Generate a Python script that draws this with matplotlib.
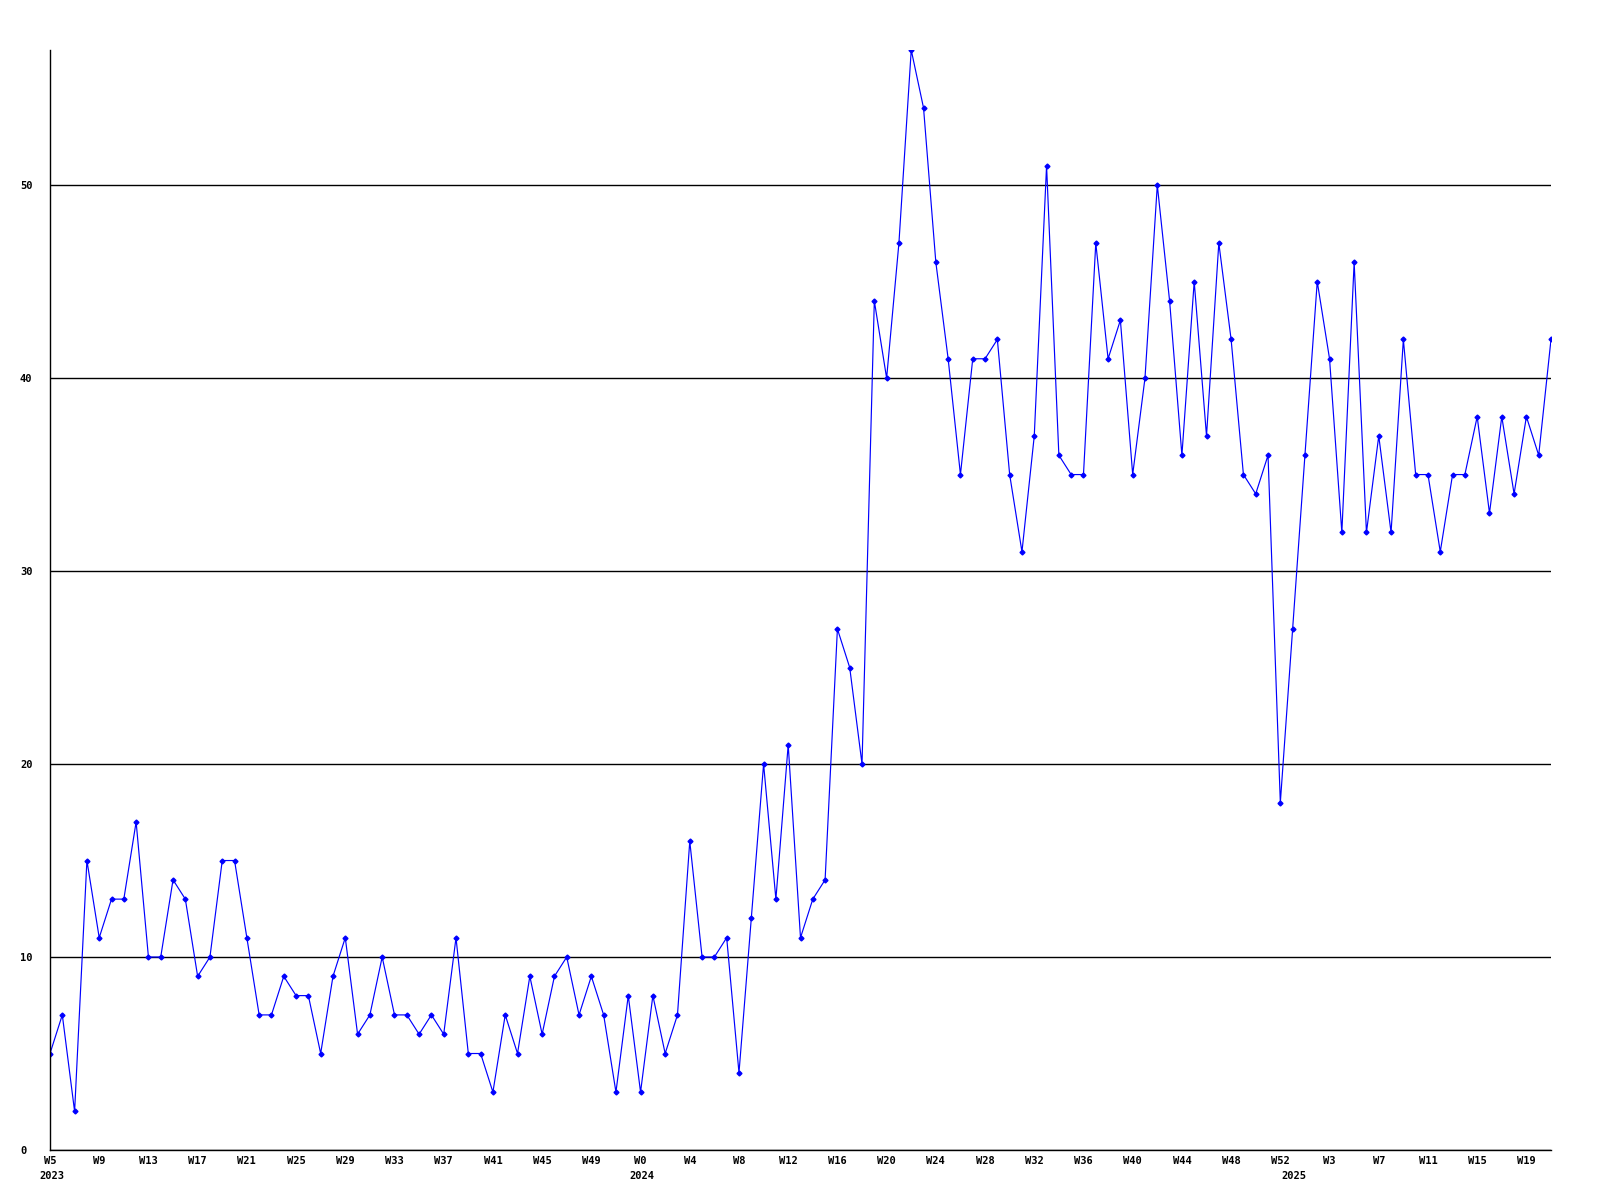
import matplotlib
matplotlib.use("Agg")
import matplotlib.pyplot as plt

# weekly counts, 2023 W5 through 2025 W21
counts = [5, 7, 2, 15, 11, 13, 13, 17, 10, 10, 14, 13, 9, 10, 15, 15, 11, 7, 7, 9,
          8, 8, 5, 9, 11, 6, 7, 10, 7, 7, 6, 7, 6, 11, 5, 5, 3, 7, 5, 9,
          6, 9, 10, 7, 9, 7, 3, 8, 3, 8, 5, 7, 16, 10, 10, 11, 4, 12, 20, 13,
          21, 11, 13, 14, 27, 25, 20, 44, 40, 47, 57, 54, 46, 41, 35, 41, 41, 42, 35, 31,
          37, 51, 36, 35, 35, 47, 41, 43, 35, 40, 50, 44, 36, 45, 37, 47, 42, 35, 34, 36,
          18, 27, 36, 45, 41, 32, 46, 32, 37, 32, 42, 35, 35, 31, 35, 35, 38, 33, 38, 34,
          38, 36, 42]

# every 4th week is labelled
week_labels = ["W5", "W9", "W13", "W17", "W21", "W25", "W29", "W33", "W37", "W41",
               "W45", "W49", "W0", "W4", "W8", "W12", "W16", "W20", "W24", "W28",
               "W32", "W36", "W40", "W44", "W48", "W52", "W3", "W7", "W11", "W15", "W19"]

# year labels and the index of the week where each year starts
years = ["2023", "2024", "2025"]
year_starts = [0, 48, 101]

yticks = [0, 10, 20, 30, 40, 50]

font = {"family": "DejaVu Sans Mono", "weight": "bold", "size": 7.5}

fig = plt.figure(figsize=(16, 12), dpi=100)
ax = fig.add_axes([50 / 1600, 50 / 1200, 1501 / 1600, 1100 / 1200])

x = list(range(len(counts)))
ax.plot(x, counts, color="#0000ff", linewidth=0.85, marker="D", markersize=2.5)

ax.set_xlim(0, len(counts) - 1)
ax.set_ylim(0, 57)

# horizontal grid
ax.set_yticks(yticks)
ax.yaxis.grid(True, color="black", linewidth=1.0)
ax.set_axisbelow(True)

ax.spines["top"].set_visible(False)
ax.spines["right"].set_visible(False)
ax.spines["left"].set_linewidth(1.0)
ax.spines["bottom"].set_linewidth(1.0)

ax.tick_params(axis="y", length=0, pad=21.6)
ax.set_yticklabels([str(v) for v in yticks], fontdict=font, ha="left")

ax.set_xticks(list(range(0, len(counts), 4)))
ax.set_xticklabels(week_labels, fontdict=font)
ax.tick_params(axis="x", length=0, pad=4.5)

for yr, idx in zip(years, year_starts):
    ax.annotate(yr, xy=(idx, 0), xycoords=("data", "axes fraction"),
                xytext=(-11, -21), textcoords="offset pixels",
                ha="left", va="top", **font)

fig.savefig("out.png", dpi=100)
